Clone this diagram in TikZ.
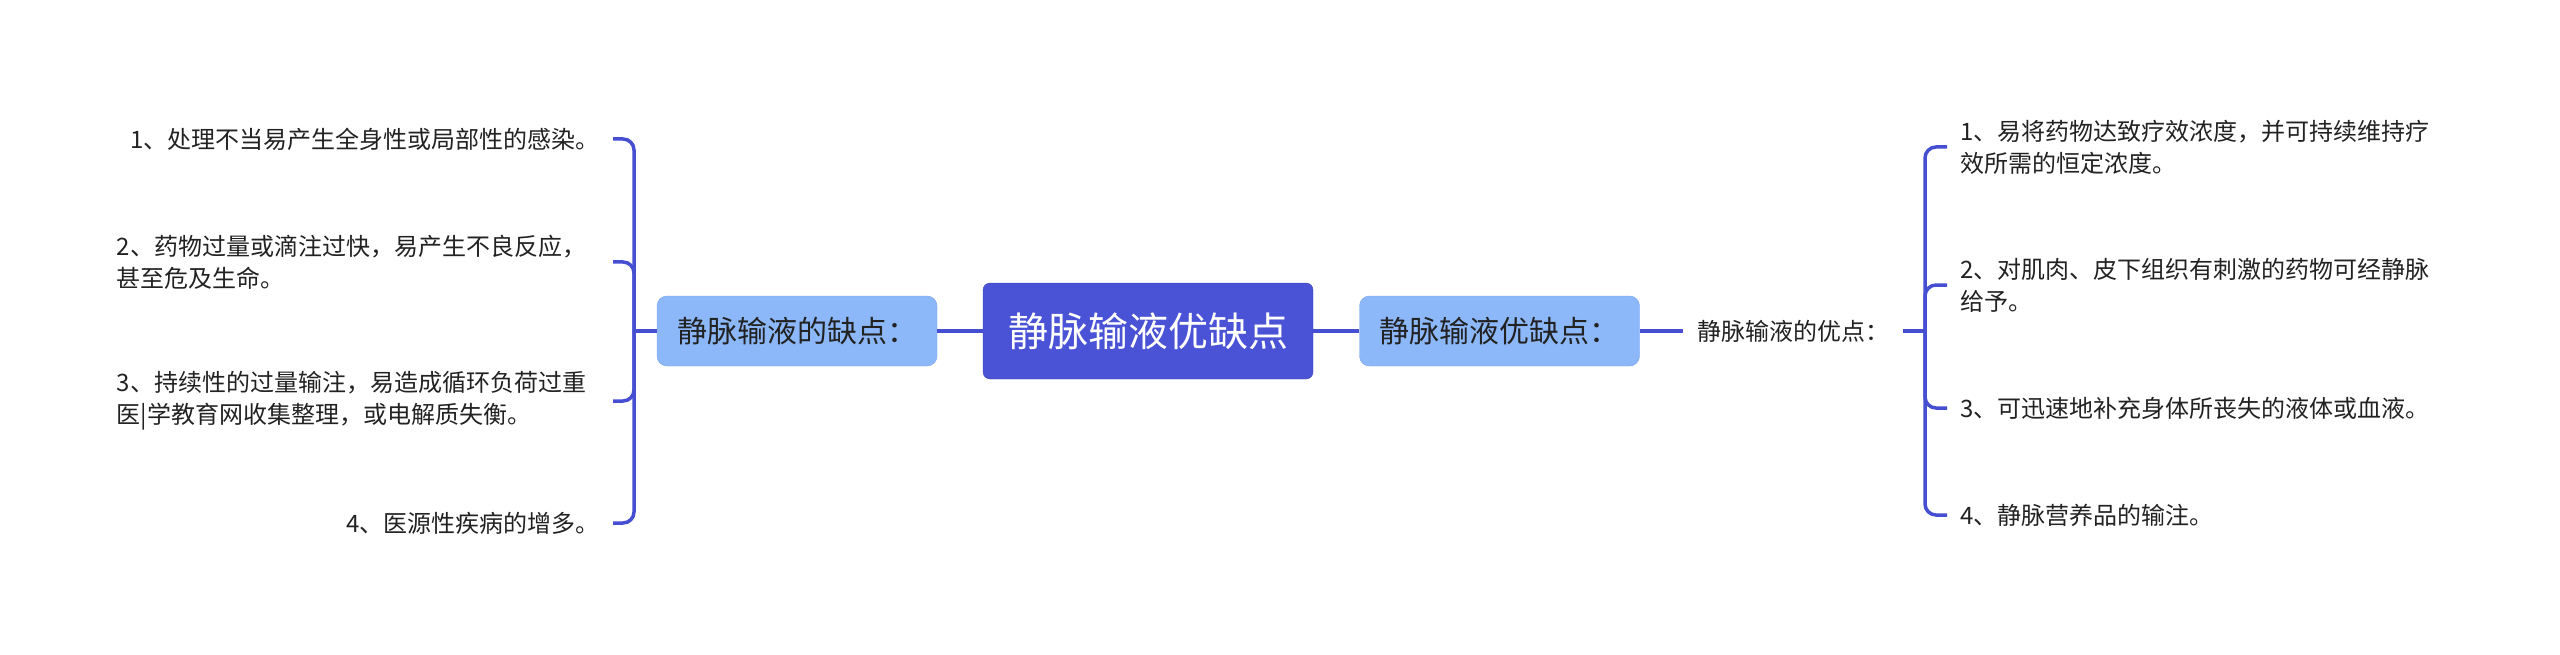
\documentclass[tikz,border=0pt]{standalone}
\usepackage{fontspec}
\setmainfont{Noto Sans CJK SC}
\usetikzlibrary{positioning}
\definecolor{LinkBlue}{RGB}{70,78,210}
\definecolor{TopicBlue}{RGB}{74,82,214}
\definecolor{SubBlue}{RGB}{140,184,250}
\definecolor{SubEdge}{RGB}{118,160,236}
\definecolor{LeafText}{RGB}{34,34,34}

\tikzset{
  topic/.style={draw=TopicBlue!85!black, fill=TopicBlue, rounded corners=7pt,
    minimum width=330pt, minimum height=96pt, text=white,
    font=\fontsize{40pt}{48pt}\selectfont},
  subtopic/.style={draw=SubEdge, fill=SubBlue, rounded corners=10pt,
    minimum width=280pt, minimum height=70pt, text=LeafText,
    font=\fontsize{30pt}{36pt}\selectfont},
  leaf/.style={inner xsep=13pt, inner ysep=0pt, text=LeafText,
    font=\fontsize{24pt}{32pt}\selectfont},
  link/.style={draw=LinkBlue, line width=3.5pt},
  brace/.style={link, rounded corners=11pt},
}

\begin{document}
\begin{tikzpicture}[x=1pt, y=-1pt]
        \useasboundingbox (0,0) rectangle (2560,655);

        % Centre and the two branch boxes
        \node[topic] (root) at (1148,331) {静脉输液优缺点};
        \node[subtopic] (cons) at (797,331) {静脉输液的缺点：};
        \node[subtopic] (pros) at (1499.5,331) {静脉输液优缺点：};
        \node[leaf, inner xsep=14pt, anchor=west] (prosnote) at (1683,331) {静脉输液的优点：};

        \draw[link] (root.west) -- (cons.east);
        \draw[link] (root.east) -- (pros.west);
        \draw[link] (pros.east) -- (prosnote.west);

        % Left leaves (drawbacks)
        \node[leaf, anchor=east] (c1) at (613,139) {1、处理不当易产生全身性或局部性的感染。};
        \node[leaf, anchor=east, text width=483pt, align=left] (c2) at (613,262)
          {2、药物过量或滴注过快，易产生不良反应，\\甚至危及生命。};
        \node[leaf, anchor=east, text width=483pt, align=left] (c3) at (613,401)
          {3、持续性的过量输注，易造成循环负荷过重\\医|学教育网收集整理，或电解质失衡。};
        \node[leaf, anchor=east] (c4) at (613,523) {4、医源性疾病的增多。};

        \coordinate (chub) at (634,331);
        \draw[link] (cons.west) -- (chub);
        \foreach \n in {c1,c2,c3,c4}
          \draw[brace] (chub) |- (\n.east);

        % Right leaves (advantages)
        \node[leaf, anchor=west, text width=483pt, align=left] (p1) at (1947,147)
          {1、易将药物达致疗效浓度，并可持续维持疗\\效所需的恒定浓度。};
        \node[leaf, anchor=west, text width=483pt, align=left] (p2) at (1947,285)
          {2、对肌肉、皮下组织有刺激的药物可经静脉\\给予。};
        \node[leaf, anchor=west] (p3) at (1947,408) {3、可迅速地补充身体所丧失的液体或血液。};
        \node[leaf, anchor=west] (p4) at (1947,515) {4、静脉营养品的输注。};

        \coordinate (phub) at (1925,331);
        \draw[link] (prosnote.east) -- (phub);
        \foreach \n in {p1,p2,p3,p4}
          \draw[brace] (phub) |- (\n.west);
\end{tikzpicture}
\end{document}
